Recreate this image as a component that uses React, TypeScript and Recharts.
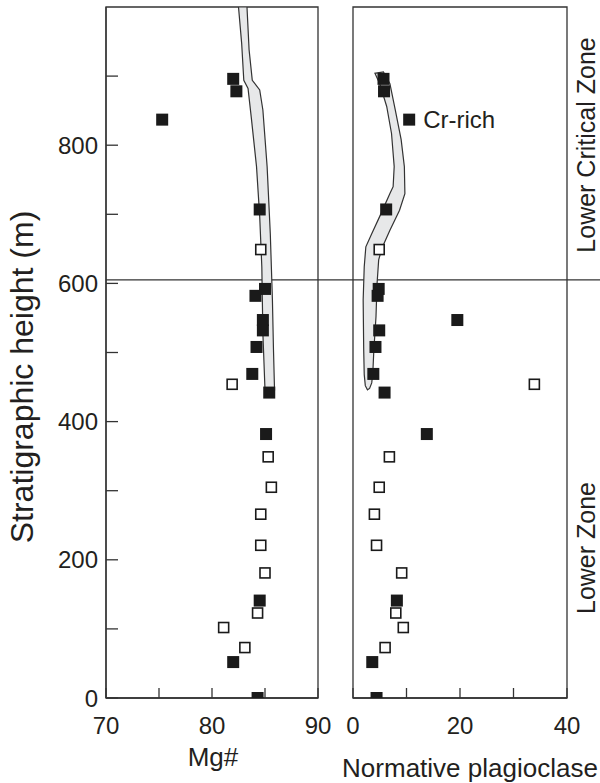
import React from "react";
import {
  ScatterChart, Scatter, XAxis, YAxis, ReferenceArea, ReferenceLine, ReferenceDot,
} from "recharts";

// stratigraphic heights (m) and values, filled squares
const heightFilled = [896, 878, 837, 707, 592, 582, 547, 532, 508, 469, 442, 382, 141, 52, 0];
const mgFilled = [82.0, 82.3, 75.3, 84.5, 85.0, 84.1, 84.8, 84.8, 84.2, 83.8, 85.4, 85.1, 84.5, 82.0, 84.3];
const plagFilled = [5.7, 5.8, 10.5, 6.2, 4.8, 4.6, 19.5, 4.9, 4.2, 3.8, 5.9, 13.8, 8.2, 3.6, 4.4];

// open squares
const heightOpen = [649, 454, 349, 305, 266, 221, 181, 123, 102, 73];
const mgOpen = [84.6, 81.9, 85.3, 85.6, 84.6, 84.6, 85.0, 84.3, 81.1, 83.1];
const plagOpen = [4.9, 33.9, 6.8, 4.9, 4.0, 4.4, 9.1, 8.0, 9.4, 6.0];

// shaded envelopes (outline traced round)
const envMgHeight = [1000, 947, 894, 882, 841, 769, 697, 624, 528, 446, 446, 504, 576, 672, 769, 851, 880, 894, 938, 1000];
const envMg = [82.5, 82.8, 83.0, 83.4, 83.7, 84.2, 84.5, 84.7, 84.8, 85.0, 85.9, 85.8, 85.7, 85.5, 85.2, 84.8, 84.5, 83.8, 83.5, 83.3];
const envPlagHeight = [906, 889, 851, 808, 769, 730, 706, 677, 651, 634, 600, 552, 504, 470, 456, 448, 446, 452, 468, 504, 576, 624, 653, 672, 697, 730, 740, 769, 817, 856, 889, 904];
const envPlag = [5.7, 6.9, 7.9, 9.0, 9.6, 9.7, 8.7, 6.9, 5.4, 4.8, 4.5, 4.3, 3.9, 3.7, 3.5, 3.1, 2.7, 2.3, 2.1, 2.0, 1.9, 2.1, 2.4, 3.5, 5.0, 6.9, 7.5, 7.7, 7.2, 6.3, 5.0, 4.1];

const zoneBoundary = 605;
const crRich = { plag: 10.5, h: 837 };

const heightTicks = [0, 100, 200, 300, 400, 500, 600, 700, 800, 900];
const mgTicks = [70, 75, 80, 85, 90];
const plagTicks = [0, 10, 20, 30, 40];

const INK = "#231f20";
const FONT = "'Liberation Sans', Arial, Helvetica, sans-serif";
const tickStyle = { fontSize: 24, fill: INK, fontFamily: FONT };

const filledSq = (p: any) => (
  <rect x={p.cx - 6} y={p.cy - 6} width={12} height={12} fill="#1a1a1a" />
);
const openSq = (p: any) => (
  <rect x={p.cx - 5} y={p.cy - 5} width={10} height={10} fill="#fff" stroke="#1a1a1a" strokeWidth={1.6} />
);
const noDot = () => <g />;

const envLine = { fill: "#e7e8e9", stroke: "#333", strokeWidth: 1.2 };

const mgEnvData = envMg.map((v, i) => ({ x: v, h: envMgHeight[i] }));
const plagEnvData = envPlag.map((v, i) => ({ x: v, h: envPlagHeight[i] }));
const mgFilledData = mgFilled.map((v, i) => ({ x: v, h: heightFilled[i] }));
const mgOpenData = mgOpen.map((v, i) => ({ x: v, h: heightOpen[i] }));
const plagFilledData = plagFilled.map((v, i) => ({ x: v, h: heightFilled[i] }));
const plagOpenData = plagOpen.map((v, i) => ({ x: v, h: heightOpen[i] }));

export default function App() {
  return (
    <div style={{ position: "absolute", left: 0, top: 0, width: 600, height: 783, background: "#fff", fontFamily: FONT }}>
      <div style={{ position: "absolute", left: 0, top: 0 }}>
        <ScatterChart width={340} height={783} margin={{ top: 7, right: 22, bottom: 55, left: 0 }}>
          <XAxis
            type="number" dataKey="x" domain={[70, 90]} ticks={mgTicks} allowDataOverflow
            tickFormatter={(v) => (v % 10 === 0 ? String(v) : "")}
            tickSize={-10} tickMargin={29} height={30}
            axisLine={{ stroke: "#333", strokeWidth: 1.3 }} tickLine={{ stroke: "#333", strokeWidth: 1.3 }}
            tick={tickStyle}
          />
          <YAxis
            type="number" dataKey="h" domain={[0, 1000]} ticks={heightTicks} allowDataOverflow
            tickFormatter={(v) => (v % 200 === 0 ? String(v) : "")}
            tickSize={-12} tickMargin={20} width={106}
            axisLine={{ stroke: "#333", strokeWidth: 1.3 }} tickLine={{ stroke: "#333", strokeWidth: 1.3 }}
            tick={tickStyle}
          />
          <Scatter data={mgEnvData} line={envLine} lineType="joint" lineJointType="linearClosed" shape={noDot} isAnimationActive={false} />
          <ReferenceArea x1={70} x2={90} y1={0} y2={1000} fill="none" stroke="#333" strokeWidth={1.3} />
          <ReferenceLine y={zoneBoundary} stroke="#333" strokeWidth={1.3} />
          <Scatter data={mgOpenData} shape={openSq} isAnimationActive={false} />
          <Scatter data={mgFilledData} shape={filledSq} isAnimationActive={false} />
        </ScatterChart>
      </div>
      <div style={{ position: "absolute", left: 318, top: 0 }}>
        <ScatterChart width={282} height={783} margin={{ top: 7, right: 33, bottom: 55, left: 35 }}>
          <XAxis
            type="number" dataKey="x" domain={[0, 40]} ticks={plagTicks} allowDataOverflow
            tickFormatter={(v) => (v % 20 === 0 ? String(v) : "")}
            tickSize={-10} tickMargin={29} height={30}
            axisLine={{ stroke: "#333", strokeWidth: 1.3 }} tickLine={{ stroke: "#333", strokeWidth: 1.3 }}
            tick={tickStyle}
          />
          <YAxis type="number" dataKey="h" domain={[0, 1000]} allowDataOverflow hide />
          <Scatter data={plagEnvData} line={envLine} lineType="joint" lineJointType="linearClosed" shape={noDot} isAnimationActive={false} />
          <ReferenceArea x1={0} x2={40} y1={0} y2={1000} fill="none" stroke="#333" strokeWidth={1.3} />
          <ReferenceLine
            segment={[{ x: -6.6, y: zoneBoundary }, { x: 46.4, y: zoneBoundary }]}
            ifOverflow="visible" stroke="#333" strokeWidth={1.3}
          />
          <ReferenceDot
            x={crRich.plag} y={crRich.h} r={6} fill="none" stroke="none"
            label={{ value: "Cr-rich", position: "right", offset: 8, fontSize: 24, fill: INK, fontFamily: FONT }}
          />
          <Scatter data={plagOpenData} shape={openSq} isAnimationActive={false} />
          <Scatter data={plagFilledData} shape={filledSq} isAnimationActive={false} />
        </ScatterChart>
      </div>
      <svg width={600} height={783} style={{ position: "absolute", left: 0, top: 0, pointerEvents: "none" }}>
        <g fill={INK} fontFamily={FONT}>
          <text transform="translate(33,377) rotate(-90)" textAnchor="middle" fontSize={32}>Stratigraphic height (m)</text>
          <text x={213} y={766} textAnchor="middle" fontSize={26}>Mg#</text>
          <text x={470} y={777} textAnchor="middle" fontSize={26}>Normative plagioclase</text>
          <text transform="translate(595,145) rotate(-90)" textAnchor="middle" fontSize={25}>Lower Critical Zone</text>
          <text transform="translate(595,548) rotate(-90)" textAnchor="middle" fontSize={25}>Lower Zone</text>
        </g>
      </svg>
    </div>
  );
}
